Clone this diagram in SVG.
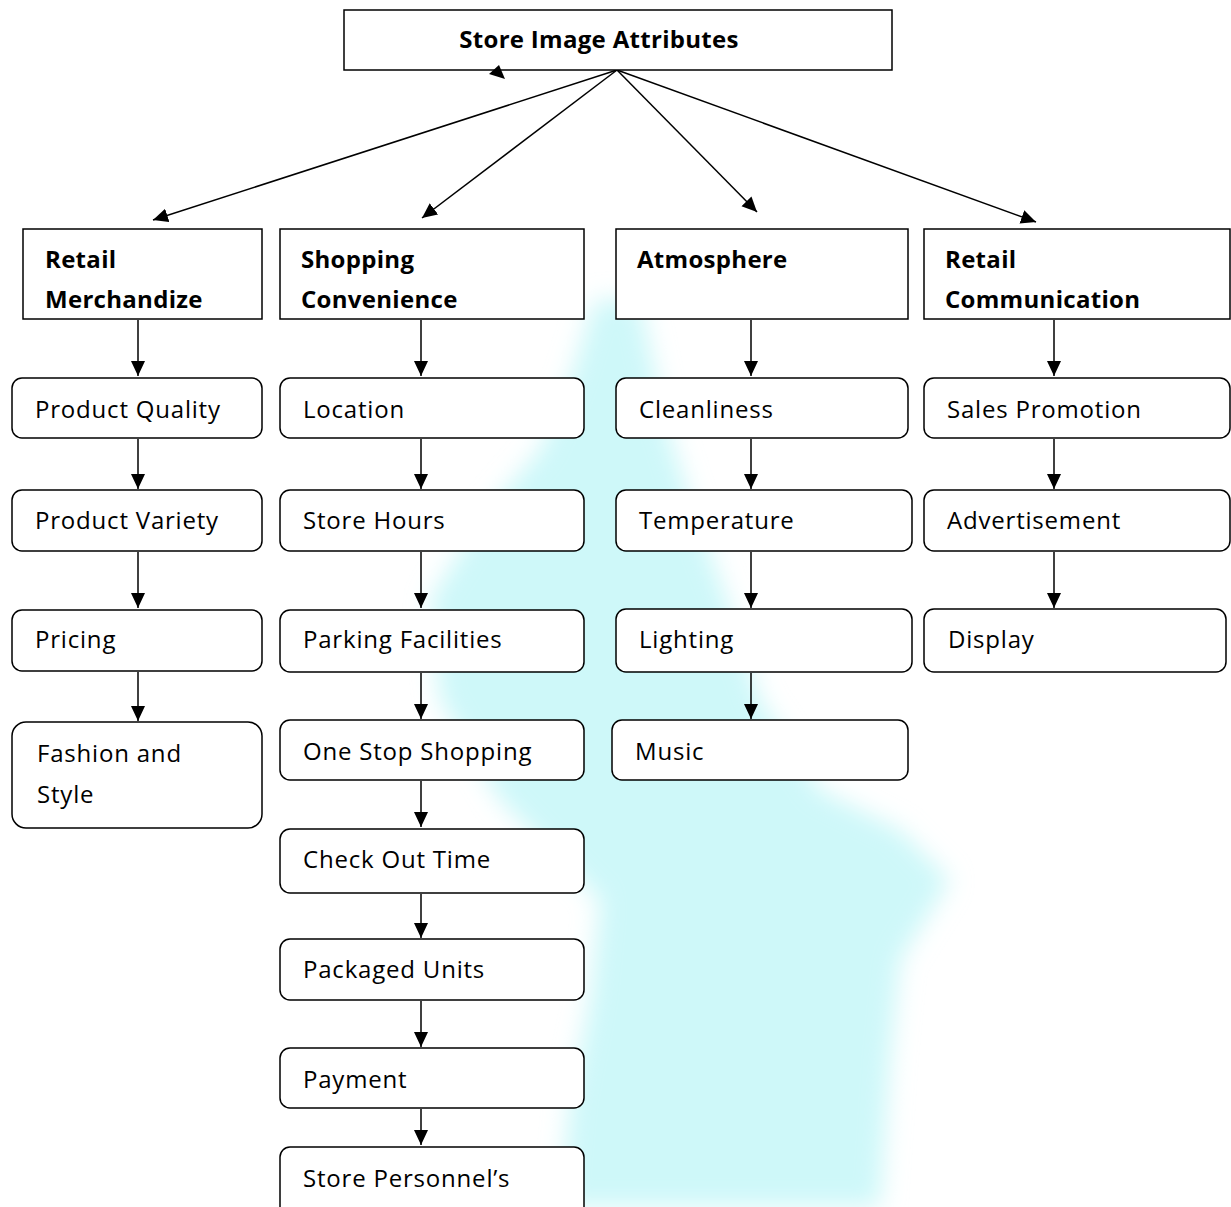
<svg xmlns="http://www.w3.org/2000/svg" width="1231" height="1207" viewBox="0 0 1231 1207">
<style>
.bg{fill:#ffffff}
.sq{fill:#ffffff;stroke:#000;stroke-width:1.5}
.rd{fill:#ffffff;stroke:#000;stroke-width:1.5}
.t{font-family:"Open Sans","Liberation Sans",sans-serif;font-size:24px;letter-spacing:0.8px;fill:#000}
.b{font-family:"Open Sans","Liberation Sans",sans-serif;font-size:24px;letter-spacing:0.3px;font-weight:bold;fill:#000}
.c{stroke:#000;stroke-width:1.5;fill:none;marker-end:url(#ah)}
</style>
<defs>
<marker id="ah" markerUnits="userSpaceOnUse" markerWidth="16" markerHeight="16" refX="15" refY="7" orient="auto">
<path d="M0,0 L15,7 L0,14 Z" fill="#000"/>
</marker>
<filter id="blur" x="-20%" y="-20%" width="140%" height="140%"><feGaussianBlur stdDeviation="12"/></filter>
</defs>
<rect class="bg" x="0" y="0" width="1231" height="1207"/>
<g id="watermark" filter="url(#blur)">
<path d="M595,300 L640,300 L665,420 L690,500 L720,580 L760,700 L820,790 L900,830 L950,880 L900,960 L890,1060 L880,1207 L560,1207 L570,1100 L590,1000 L600,900 L500,800 L440,700 L430,600 L480,520 L540,450 L570,380 Z" fill="#c6f7f8" opacity="0.85"/>
</g>
<g id="connectors">
<line class="c" x1="617" y1="70" x2="153" y2="220"/>
<line class="c" x1="617" y1="70" x2="422" y2="218"/>
<line class="c" x1="617" y1="70" x2="757" y2="212"/>
<line class="c" x1="617" y1="70" x2="1036" y2="222"/>
<line class="c" x1="138" y1="320" x2="138" y2="376"/>
<line class="c" x1="421" y1="320" x2="421" y2="376"/>
<line class="c" x1="751" y1="320" x2="751" y2="376"/>
<line class="c" x1="1054" y1="320" x2="1054" y2="376"/>
<line class="c" x1="138" y1="439" x2="138" y2="489"/>
<line class="c" x1="138" y1="552" x2="138" y2="608"/>
<line class="c" x1="138" y1="672" x2="138" y2="721"/>
<line class="c" x1="421" y1="439" x2="421" y2="489"/>
<line class="c" x1="421" y1="552" x2="421" y2="608"/>
<line class="c" x1="421" y1="673" x2="421" y2="719"/>
<line class="c" x1="421" y1="781" x2="421" y2="827"/>
<line class="c" x1="421" y1="894" x2="421" y2="938"/>
<line class="c" x1="421" y1="1001" x2="421" y2="1047"/>
<line class="c" x1="421" y1="1109" x2="421" y2="1145"/>
<line class="c" x1="751" y1="439" x2="751" y2="489"/>
<line class="c" x1="751" y1="552" x2="751" y2="608"/>
<line class="c" x1="751" y1="673" x2="751" y2="719"/>
<line class="c" x1="1054" y1="439" x2="1054" y2="489"/>
<line class="c" x1="1054" y1="552" x2="1054" y2="608"/>
</g>
<g id="root"><rect class="sq" x="344" y="10" width="548" height="60"/><text class="b" x="599" y="48" text-anchor="middle">Store Image Attributes</text><polygon points="489,74 499,65 505,79" fill="#000"/></g>
<g id="retail-merchandize"><rect class="sq" x="23" y="229" width="239" height="90"/><text class="b" x="45" y="268">Retail</text><text class="b" x="45" y="308">Merchandize</text></g>
<g id="shopping-convenience"><rect class="sq" x="280" y="229" width="304" height="90"/><text class="b" x="301" y="268">Shopping</text><text class="b" x="301" y="308">Convenience</text></g>
<g id="atmosphere"><rect class="sq" x="616" y="229" width="292" height="90"/><text class="b" x="637" y="268">Atmosphere</text></g>
<g id="retail-communication"><rect class="sq" x="924" y="229" width="306" height="90"/><text class="b" x="945" y="268">Retail</text><text class="b" x="945" y="308">Communication</text></g>
<g id="product-quality"><rect class="rd" x="12" y="378" width="250" height="60" rx="10"/><text class="t" x="35" y="418">Product Quality</text></g>
<g id="product-variety"><rect class="rd" x="12" y="490" width="250" height="61" rx="10"/><text class="t" x="35" y="529">Product Variety</text></g>
<g id="pricing"><rect class="rd" x="12" y="610" width="250" height="61" rx="10"/><text class="t" x="35" y="648">Pricing</text></g>
<g id="fashion"><rect class="rd" x="12" y="722" width="250" height="106" rx="14"/><text class="t" x="37" y="762">Fashion and</text><text class="t" x="37" y="803">Style</text></g>
<g id="location"><rect class="rd" x="280" y="378" width="304" height="60" rx="10"/><text class="t" x="303" y="418">Location</text></g>
<g id="store-hours"><rect class="rd" x="280" y="490" width="304" height="61" rx="10"/><text class="t" x="303" y="529">Store Hours</text></g>
<g id="parking"><rect class="rd" x="280" y="610" width="304" height="62" rx="10"/><text class="t" x="303" y="648">Parking Facilities</text></g>
<g id="one-stop"><rect class="rd" x="280" y="720" width="304" height="60" rx="10"/><text class="t" x="303" y="760">One Stop Shopping</text></g>
<g id="checkout"><rect class="rd" x="280" y="829" width="304" height="64" rx="10"/><text class="t" x="303" y="868">Check Out Time</text></g>
<g id="packaged"><rect class="rd" x="280" y="939" width="304" height="61" rx="10"/><text class="t" x="303" y="978">Packaged Units</text></g>
<g id="payment"><rect class="rd" x="280" y="1048" width="304" height="60" rx="10"/><text class="t" x="303" y="1088">Payment</text></g>
<g id="personnel"><rect class="rd" x="280" y="1147" width="304" height="70" rx="10"/><text class="t" x="303" y="1187">Store Personnel’s</text></g>
<g id="cleanliness"><rect class="rd" x="616" y="378" width="292" height="60" rx="10"/><text class="t" x="639" y="418">Cleanliness</text></g>
<g id="temperature"><rect class="rd" x="616" y="490" width="296" height="61" rx="10"/><text class="t" x="639" y="529">Temperature</text></g>
<g id="lighting"><rect class="rd" x="616" y="609" width="296" height="63" rx="10"/><text class="t" x="639" y="648">Lighting</text></g>
<g id="music"><rect class="rd" x="612" y="720" width="296" height="60" rx="10"/><text class="t" x="635" y="760">Music</text></g>
<g id="sales-promotion"><rect class="rd" x="924" y="378" width="306" height="60" rx="10"/><text class="t" x="947" y="418">Sales Promotion</text></g>
<g id="advertisement"><rect class="rd" x="924" y="490" width="306" height="61" rx="10"/><text class="t" x="947" y="529">Advertisement</text></g>
<g id="display"><rect class="rd" x="924" y="609" width="302" height="63" rx="10"/><text class="t" x="948" y="648">Display</text></g>
</svg>
